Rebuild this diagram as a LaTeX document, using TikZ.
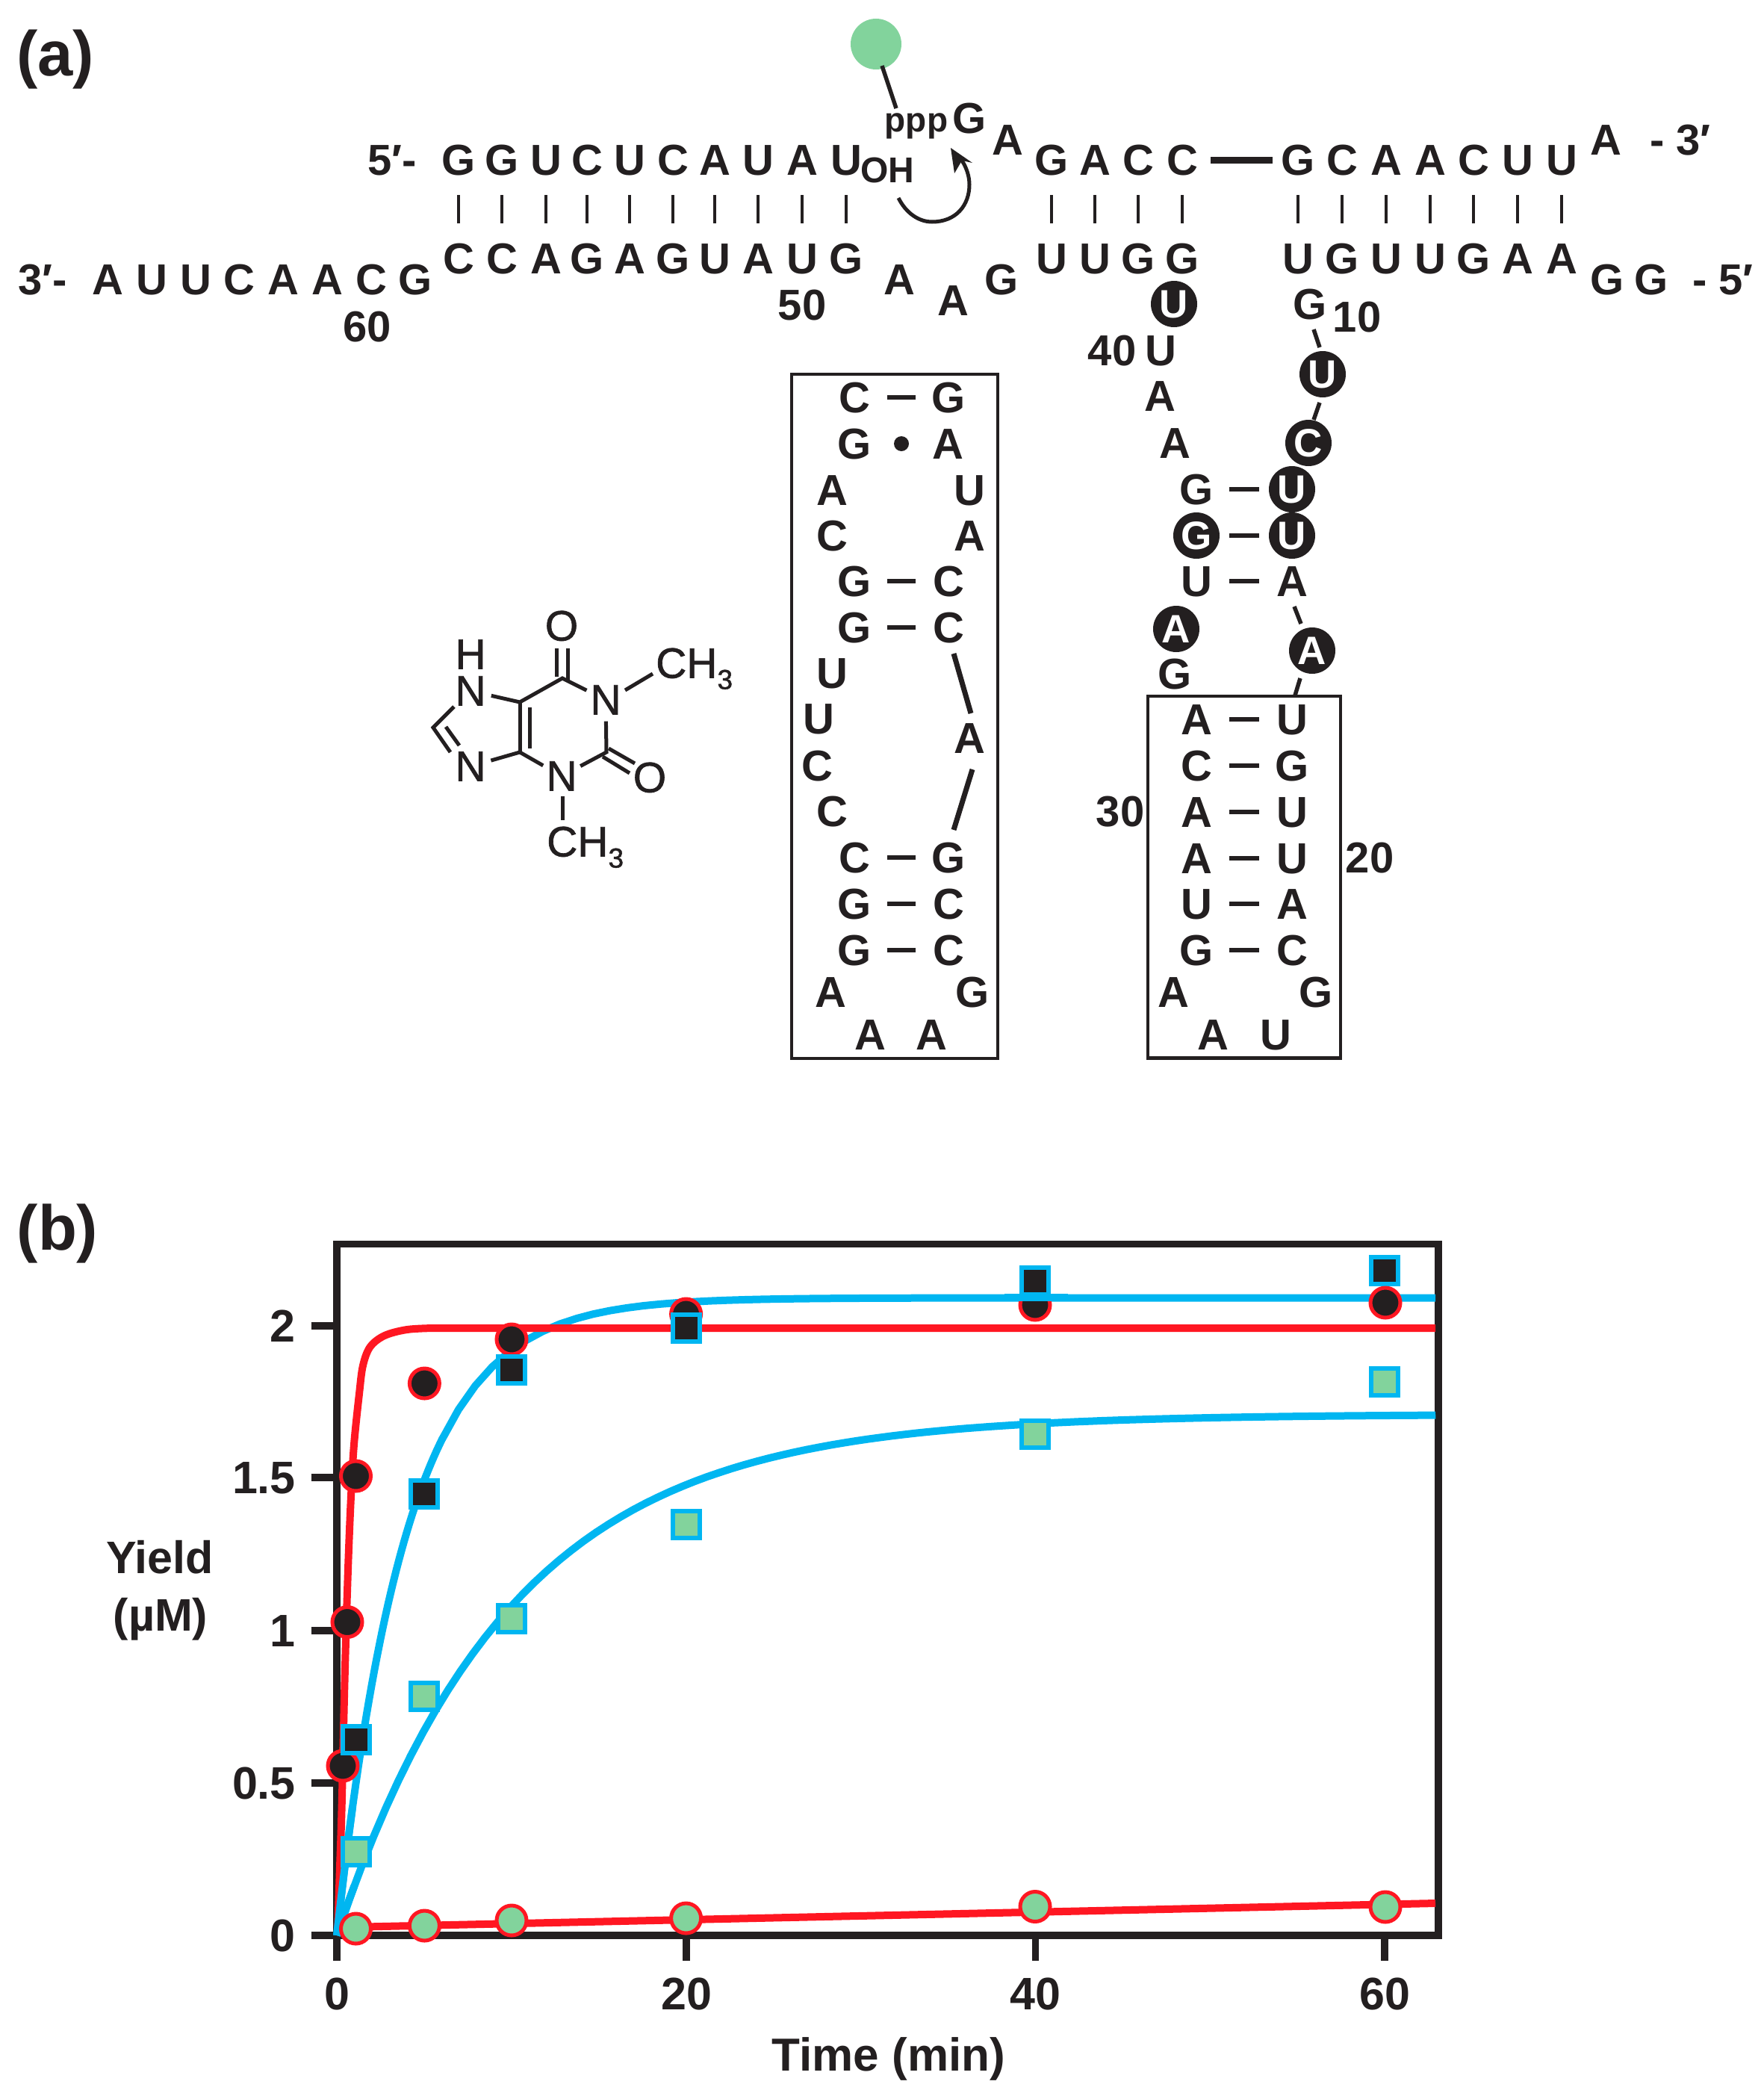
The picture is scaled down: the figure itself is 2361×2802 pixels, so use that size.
\documentclass[tikz,border=0pt]{standalone}
\usepackage{fontspec}
\setmainfont{Liberation Sans}
\newfontfamily\atomfont{Liberation Sans}[FakeBold=1.2]
\newcommand\fsz[1]{\fontsize{#1}{#1}\selectfont}
\definecolor{ink}{HTML}{231F20}
\definecolor{rd}{HTML}{FF1722}
\definecolor{bl}{HTML}{00B6F1}
\definecolor{gr}{HTML}{82D39C}
\tikzset{
  nt/.style={inner sep=0pt,anchor=center,text=ink,font=\bfseries\fsz{58},text height=40pt,text depth=0pt},
  num/.style={nt},
  cnt/.style={circle,fill=ink,inner sep=0pt,minimum size=62pt,text=white,font=\bfseries\fsz{53},text height=37pt,text depth=0pt},
  stem/.style={draw=ink,line width=4.8pt,shorten >=47pt,shorten <=47pt},
  pair/.style={draw=ink,line width=5.5pt,shorten >=44pt,shorten <=44pt},
  bar/.style={draw=ink,line width=5.5pt},
  longbar/.style={draw=ink,line width=7pt},
  boxl/.style={draw=ink,line width=4.6pt},
  atom/.style={circle,inner sep=0pt,minimum size=56pt,text=ink,font=\atomfont\fsz{57},text height=39pt,text depth=0pt},
  bond/.style={draw=ink,line width=5pt},
  frame/.style={draw=ink,line width=9.5pt},
  rline/.style={draw=rd,line width=10pt},
  bline/.style={draw=bl,line width=10pt},
  ccirc/.style={circle,draw=rd,line width=5pt,inner sep=0pt,minimum size=40pt},
  csq/.style={rectangle,draw=bl,line width=6pt,inner sep=0pt,minimum size=36pt},
  tl/.style={inner sep=0pt,text=ink,font=\bfseries\fsz{58},text height=40pt,text depth=0pt},
  head/.style={inner sep=0pt,text=ink,font=\bfseries\fsz{85}},
  axl/.style={inner sep=0pt,text=ink,font=\bfseries\fsz{61},text height=42pt,text depth=0pt}
}
\begin{document}
\begin{tikzpicture}[x=1pt,y=-1pt]
\fill[white] (0,0) rectangle (2361,2802);
\useasboundingbox (0,0) rectangle (2361,2802);

\node[head] (la) at (74,80) {(a)};
\node[head] (lb) at (77,1652) {(b)};

% helix letters
\foreach \n/\x/\l in {1/614/G,2/672/G,3/731/U,4/786/C,5/843/U,6/901/C,7/957/A,8/1015/U,9/1074/A,10/1133/U,
  11/1408/G,12/1466/A,13/1524/C,14/1583/C,15/1738/G,16/1797/C,17/1856/A,18/1915/A,19/1973/C,20/2032/U,21/2091/U}
  \node[nt] (t\n) at (\x,214) {\l};
\foreach \n/\x/\l in {1/614/C,2/672/C,3/731/A,4/786/G,5/843/A,6/901/G,7/957/U,8/1015/A,9/1074/U,10/1133/G,
  11/1408/U,12/1466/U,13/1524/G,14/1583/G,15/1738/U,16/1797/G,17/1856/U,18/1915/U,19/1973/G,20/2032/A,21/2091/A}
  \node[nt] (b\n) at (\x,346) {\l};
\foreach \n in {1,...,21} \draw[stem] (t\n.center) -- (b\n.center);
\draw[draw=ink,line width=9pt,shorten <=38pt,shorten >=34pt,yshift=-2.5pt] (t14.center) -- (t15.center);

\foreach \n/\x/\l in {1/144/A,2/203/U,3/262/U,4/320/C,5/379/A,6/438/A,7/497/C,8/556/G}
  \node[nt] (w\n) at (\x,374) {\l};
\foreach \n/\x/\y/\l in {a/1204/374/A,b/1276/402/A,c/1341/374/G,d/1349/187/A,e/2150/187/A,f/2152/374/G,g/2211/374/G,h/1298/158/G}
  \node[nt] (f\n) at (\x,\y) {\l};

\node[nt] (e5) at (525,214) {5′-};
\node[nt] (e3) at (57,374) {3′-};
\node[nt] (r3) at (2250,187) {- 3′};
\node[nt] (r5) at (2307,374) {- 5′};

\foreach \n/\x/\y in {60/492/437,50/1074/408,40/1489/469,10/1817/424,30/1500/1086,20/1834/1148}
  \node[num] (n\n) at (\x,\y) {\n};

% guanosine tag
\node[circle,fill=gr,inner sep=0pt,minimum size=68pt] (tag) at (1173,59) {};
\node[inner sep=0pt,text=ink,font=\bfseries\fsz{46},text height=25pt,text depth=0pt] (ppp) at (1227,164) {ppp};
\node[inner sep=0pt,text=ink,font=\bfseries\fsz{48},text height=33pt,text depth=0pt] (oh) at (1188,228) {OH};
\coordinate (tage) at (1200,145);
\draw[draw=ink,line width=5.5pt] (1181,88) -- (tage);
\coordinate (ca) at (1203,265);
\coordinate (cb) at (1248,297);
\coordinate (cc) at (1298,247);
\coordinate (cd) at (1288,215);
\draw[draw=ink,line width=5pt] (ca) .. controls (1213,285) and (1230,297) .. (cb) .. controls (1280,297) and (1298,275) .. (cc) .. controls (1298,236) and (1294,224) .. (cd);
\fill[ink] (1273,198) -- (1302,218) -- (1288,215) -- (1278,232) -- cycle;

% right arm, upper strand pieces
\foreach \n/\x/\y/\l in {ua/1554/469/U,ub/1553/530/A,uc/1573/593/A,ud/1602/655/G,ue/1602/778/U,uf/1573/902/G,
  va/1754/407/G,vb/1730/778/A}
  \node[nt] (\n) at (\x,\y) {\l};
\foreach \n/\x/\y/\l in {ca1/1572/407/U,ca2/1771/501/U,ca3/1752/593/C,ca4/1730/655/U,ca5/1730/717/U,ca6/1602/717/G,ca7/1575/842/A,ca8/1757/871/A}
  \node[cnt] (\n) at (\x,\y) {\l};
\draw[pair] (ud.center) -- (ca4.center);
\draw[pair] (ca6.center) -- (ca5.center);
\draw[pair] (ue.center) -- (vb.center);
\foreach \n/\ax/\ay/\bx/\by in {1/1759/441/1767/465,2/1767/539/1759/562,3/1733/812/1742/835,4/1741/908/1734/931}{
  \coordinate (ka\n) at (\ax,\ay);
  \coordinate (kb\n) at (\bx,\by);
  \draw[bar] (ka\n) -- (kb\n);
}
\foreach \n/\ax/\ay/\bx/\by in {5/1277/875/1300/955,6/1302/1030/1277/1111}{
  \coordinate (ka\n) at (\ax,\ay);
  \coordinate (kb\n) at (\bx,\by);
  \draw[longbar] (ka\n) -- (kb\n);
}

% right box
\node[boxl,rectangle,inner sep=0pt,minimum width=258pt,minimum height=484.5pt] (rbox) at (1666,1174.25) {};
\foreach \n/\y/\l/\r in {1/963/A/U,2/1025/C/G,3/1087/A/U,4/1149/A/U,5/1210/U/A,6/1272/G/C}{
  \node[nt] (rl\n) at (1602,\y) {\l};
  \node[nt] (rr\n) at (1730,\y) {\r};
  \draw[pair] (rl\n.center) -- (rr\n.center);
}
\foreach \n/\x/\y/\l in {1/1571/1328/A,2/1762/1328/G,3/1624/1385/A,4/1708/1385/U}
  \node[nt] (rx\n) at (\x,\y) {\l};

% left box
\node[boxl,rectangle,inner sep=0pt,minimum width=276pt,minimum height=916pt] (lbox) at (1198,959) {};
\foreach \n/\y/\l/\r in {1/532/C/G,3/778/G/C,4/840/G/C,5/1148/C/G,6/1210/G/C,7/1272/G/C}{
  \node[nt] (ll\n) at (1144,\y) {\l};
  \node[nt] (lr\n) at (1270,\y) {\r};
  \draw[pair] (ll\n.center) -- (lr\n.center);
}
\node[nt] (ll2) at (1144,594) {G};
\node[nt] (lr2) at (1269,594) {A};
\node[circle,fill=ink,inner sep=0pt,minimum size=20pt] (ldot) at (1207,594) {};
\foreach \n/\x/\y/\l in {1/1114/656/A,2/1114/717/C,3/1114/901/U,4/1096/962/U,5/1094/1025/C,6/1114/1086/C,7/1112/1328/A,8/1165/1385/A,9/1247/1385/A,
  10/1298/656/U,11/1298/717/A,12/1298/988/A,13/1302/1328/G}
  \node[nt] (lx\n) at (\x,\y) {\l};

% caffeine-like structure
\node[atom] (oa) at (752,838) {O};
\node[inner sep=0pt,text=ink,font=\atomfont\fsz{57},text height=39pt,text depth=0pt] (ha) at (630,876) {H};
\node[atom] (n7) at (630,925) {N};
\node[atom] (n1) at (811,937) {N};
\node[atom] (n9) at (630,1026) {N};
\node[atom] (n3) at (752,1039) {N};
\node[atom] (ob) at (870,1041) {O};
\node[inner sep=0pt,anchor=west,text=ink,font=\atomfont\fsz{57},text height=39pt,text depth=0pt] (me1) at (878,888) {CH\raisebox{-15pt}{\fsz{37}3}};
\node[inner sep=0pt,anchor=west,text=ink,font=\atomfont\fsz{57},text height=39pt,text depth=0pt] (me3) at (732,1127) {CH\raisebox{-15pt}{\fsz{37}3}};
\coordinate (c6) at (753,908);
\coordinate (c5) at (696,940);
\coordinate (c4) at (696,1007);
\coordinate (c2) at (812,1007);
\coordinate (c8) at (580,974);
\draw[bond,line join=miter] (n7) -- (c5) -- (c6) -- (n1);
\draw[bond] (c5) -- (c4);
\draw[bond] (709,947) -- (709,1002);
\draw[bond] (n9) -- (c4) -- (n3);
\draw[bond] (n3) -- (c2) -- (n1);
\draw[bond] (745.5,868) -- (745.5,906);
\draw[bond] (760,868) -- (760,912);
\draw[bond] (815,1002) -- (850,1022);
\draw[bond] (807,1013) -- (843,1035);
\draw[bond] (837,924) -- (874,902);
\draw[bond] (753,1066) -- (753,1098);
\draw[bond,line join=miter] (608,946) -- (c8) -- (603,1007);
\draw[bond] (597,973) -- (615,998);

% plot frame
\draw[frame] (451,1665.7) rectangle (1926,2591);
\foreach \n/\y/\t in {a/2591/0,b/2387/0.5,c/2183/1,d/1978/1.5,e/1775/2}{
  \coordinate (ya\n) at (416.5,\y);
  \coordinate (yb\n) at (451,\y);
  \draw[frame] (ya\n) -- (yb\n);
  \node[axl,anchor=east] (yl\n) at (396,\y) {\t};
}
\foreach \n/\x/\t in {a/451/0,b/919/20,c/1386.6/40,d/1854/60}{
  \coordinate (xa\n) at (\x,2591);
  \coordinate (xb\n) at (\x,2625);
  \draw[frame] (xa\n) -- (xb\n);
  \node[axl] (xl\n) at (\x,2669) {\t};
}
\node[axl,font=\bfseries\fsz{62}] (xt) at (1190,2751) {Time (min)};
\node[axl] (yt1) at (214,2085) {Yield};
\node[axl] (yt2) at (215,2162) {(µM)};

% curves
\draw[bline] plot[domain=0:6,samples=40] ({451+23.39*\x},{2591-853.5*(1-exp(-0.25*\x))})
  -- plot[domain=6:62.9,samples=60] ({451+23.39*\x},{2591-853.5*(1-exp(-0.25*\x))});
\draw[bline] plot[domain=0:62.9,samples=90] ({451+23.39*\x},{2591-697.7*(1-exp(-0.1*\x))});
\draw[rline] plot[smooth,tension=0.55] coordinates {(452,2590)(455,2500)(457.7,2417)(461.7,2244)(466,2101)(470,2003)(474,1934)(481,1866)(486,1828)(495.7,1803)(515,1788)(545,1780)(580,1778)} -- (1922,1778);
\draw[rline] (465,2580) -- (1922,2548);
\draw[bline] plot[domain=0:0.9,samples=12] ({451+23.39*\x},{2591-853.5*(1-exp(-0.25*\x))});
\draw[bline] plot[domain=0:1,samples=12] ({451+23.39*\x},{2591-697.7*(1-exp(-0.1*\x))});

% markers
\foreach \n/\x/\y in {1/459/2364,2/465/2171.5,3/476.5/1976,4/568.4/1852,5/685/1793,6/918.6/1759,7/1386/1747}
  \node[ccirc,fill=ink] (kc\n) at (\x,\y) {};
\foreach \n/\x/\y in {1/476.5/2329,2/568.4/2000,3/685/1834,4/918.6/1778,5/1386/1715,6/1853.5/1701}
  \node[csq,fill=ink] (ks\n) at (\x,\y) {};
\node[ccirc,fill=ink] (kc8) at (1855,1744) {};
\coordinate (bova) at (1345,1737.3);
\coordinate (bovb) at (1430,1737.3);
\draw[bline] (bova) -- (bovb);
\foreach \n/\x/\y in {1/476.5/2479,2/568.4/2271,3/685/2167,4/918.6/2041,5/1386/1920,6/1853.5/1850}
  \node[csq,fill=gr] (gs\n) at (\x,\y) {};
\foreach \n/\x/\y in {1/476.5/2582,2/568.4/2578,3/685/2571,4/918.6/2568,5/1386/2552.5,6/1855/2553}
  \node[ccirc,fill=gr] (gc\n) at (\x,\y) {};
\end{tikzpicture}
\end{document}
